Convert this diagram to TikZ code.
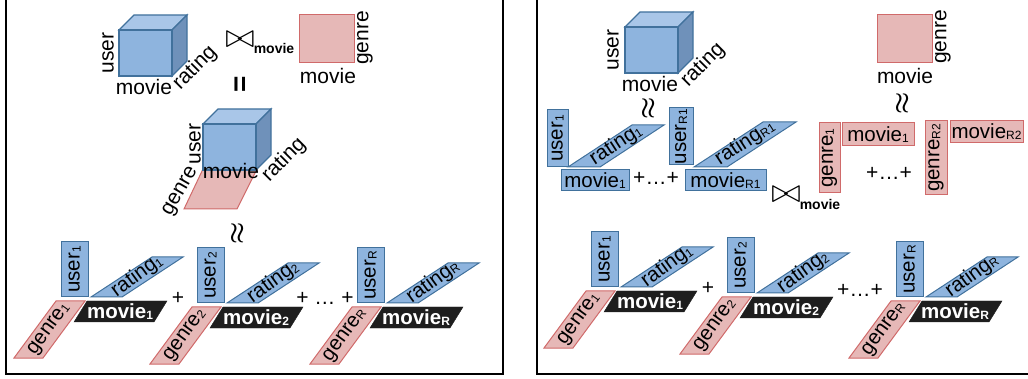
\documentclass[tikz,border=0pt]{standalone}
\usepackage{fontspec}
\setmainfont{Liberation Sans}
\definecolor{cubefront}{HTML}{8EB4DE}
\definecolor{cubetop}{HTML}{A9C6E8}
\definecolor{cubeside}{HTML}{6F91BA}
\definecolor{blueedge}{HTML}{41719C}
\definecolor{redfill}{HTML}{E6B8B7}
\definecolor{rededge}{HTML}{D06A6A}
\definecolor{blackfill}{HTML}{1E1E1E}
\newcommand{\sub}[1]{\raisebox{-0.05em}{\fontsize{12}{13}\selectfont #1}}
% cube: front top-left corner, width 53, height 46, depth 15
\newcommand{\datacube}[2]{%
  \filldraw[fill=cubetop,draw=blueedge,line width=1.2pt] (#1,#2)--++(15,-15)--++(53,0)--++(-15,15)--cycle;
  \filldraw[fill=cubeside,draw=blueedge,line width=1.2pt] (#1+53,#2)--++(15,-15)--++(0,46)--++(-15,15)--cycle;
  \filldraw[fill=cubefront,draw=blueedge,line width=1.2pt] (#1,#2) rectangle ++(53,46);}

\begin{document}
\begin{tikzpicture}[x=1pt,y=-1pt,font=\fontsize{21}{24}\selectfont,
  bluebox/.style={fill=cubefront,draw=blueedge,line width=1pt},
  redbox/.style={fill=redfill,draw=rededge,line width=1pt},
  blackbox/.style={fill=blackfill,draw=blackfill},
  lbl/.style={inner sep=0pt},
  glbl/.style={inner sep=0pt,font=\fontsize{20.5}{24}\selectfont},
  wlbl/.style={inner sep=0pt,text=white,font=\fontsize{20.5}{24}\selectfont\bfseries},
  joinsym/.style={inner sep=0pt,xscale=1.45,yscale=1.35,font=\fontsize{24}{24}\selectfont},
  joinsub/.style={inner sep=0pt,font=\fontsize{14}{15}\selectfont\bfseries},
  relsym/.style={inner sep=0pt,rotate=90,font=\fontsize{28}{30}\selectfont\bfseries\boldmath}]
\useasboundingbox (0,0) rectangle (1028,379);
\clip (0,0) rectangle (1028,379);
\draw[line width=1.5pt] (6,-5) rectangle (503,374);
\draw[line width=1.5pt] (537,-5) rectangle (1035,374);

%% left panel, top
\datacube{119}{30}
\node[lbl,rotate=90] (userA) at (108,53) {user};
\node[lbl] (movieA) at (144,87) {movie};
\node[lbl,rotate=45] (ratingA) at (195,68) {rating};
\node[joinsym] (joinA) at (240,40) {$\bowtie$};
\node[joinsub] (joinsubA) at (274,48) {movie};
\filldraw[redbox] (299,15) rectangle (354,63);
\node[lbl,rotate=90] (genreA) at (365,38) {genre};
\node[lbl] (movieB) at (328,76) {movie};
\node[relsym] (eqA) at (242,84) {=};

%% left panel, joined cube
\filldraw[redbox] (203,169)--(257,169)--(237,209)--(184,209)--cycle;
\datacube{203}{124}
\node[lbl,rotate=90] (userB) at (195,144) {user};
\node[lbl] (movieC) at (231,171) {movie};
\node[lbl,rotate=60] (genreB) at (181,192) {genre};
\node[lbl,rotate=45] (ratingB) at (284,160) {rating};
\node[relsym] (apA) at (238,233) {$\approx$};

%% rank-one terms, both panels
\foreach \dx/\dy/\s [count=\i] in {0/0/1,136/6/2,296/6/R,530/-10/1,666/-4/2,835/0/R}{
  \begin{scope}[shift={(\dx,\dy)}]
  \filldraw[bluebox] (61,242) rectangle (88,297);
  \node[glbl,rotate=90] (user\i) at (74.5,269.5) {user\sub{\s}};
  \filldraw[bluebox] (91,297)--(152,257)--(183,257)--(122,297)--cycle;
  \node[glbl,rotate=36] (rating\i) at (137,276) {rating\sub{\s}};
  \filldraw[blackbox] (87,301)--(167,301)--(154,322)--(74,322)--cycle;
  \node[wlbl] (movie\i) at (120,311.5) {movie\sub{\s}};
  \filldraw[redbox] (56,301)--(85,301)--(43,358)--(14,358)--cycle;
  \node[glbl,rotate=54] (genre\i) at (49.5,329.5) {genre\sub{\s}};
  \end{scope}}
\node[lbl] (plusA) at (178,298) {+};
\node[lbl] (plusB) at (325,298) {+ \ldots\ +};
\node[lbl] (plusC) at (708,288) {+};
\node[lbl] (plusD) at (860,290) {+\ldots+};

%% right panel, top
\datacube{625}{27}
\node[lbl,rotate=90] (userC) at (613,50) {user};
\node[lbl] (movieD) at (650,84) {movie};
\node[lbl,rotate=45] (ratingC) at (703,65) {rating};
\node[relsym] (apB) at (649,108) {$\approx$};
\filldraw[redbox] (877,15) rectangle (932,63);
\node[lbl,rotate=90] (genreC) at (943,37) {genre};
\node[lbl] (movieE) at (905,76) {movie};
\node[relsym] (apC) at (903,103) {$\approx$};

%% right panel, factor blocks
\filldraw[bluebox] (547,110) rectangle (568,167);
\node[glbl,rotate=90] (userD) at (557.5,138.5) {user\sub{1}};
\filldraw[bluebox] (568,167)--(632,125)--(664,125)--(600,167)--cycle;
\node[glbl,rotate=33] (ratingD) at (616,145) {rating\sub{1}};
\filldraw[bluebox] (561,170) rectangle (629,191);
\node[glbl] (movieF) at (595,180.5) {movie\sub{1}};
\node[lbl] (plusE) at (656,178) {+\ldots+};
\filldraw[bluebox] (669,108) rectangle (693,165);
\node[glbl,rotate=90] (userE) at (681,136.5) {user\sub{R1}};
\filldraw[bluebox] (694,167)--(763,122)--(796,122)--(727,167)--cycle;
\node[glbl,rotate=33] (ratingE) at (745,143) {rating\sub{R1}};
\filldraw[bluebox] (685,170) rectangle (766,191);
\node[glbl] (movieG) at (725.5,180.5) {movie\sub{R1}};
\node[joinsym] (joinB) at (786,195) {$\bowtie$};
\node[joinsub] (joinsubB) at (820,204) {movie};

\filldraw[redbox] (819,123) rectangle (840,193);
\node[glbl,rotate=90] (genreD) at (829.5,158) {genre\sub{1}};
\filldraw[redbox] (842,123) rectangle (914,146);
\node[glbl] (movieH) at (878,134.5) {movie\sub{1}};
\node[lbl] (plusF) at (889,173) {+\ldots+};
\filldraw[redbox] (925,121) rectangle (947,195);
\node[glbl,rotate=90] (genreE) at (936,158) {genre\sub{R2}};
\filldraw[redbox] (950,121) rectangle (1023,143);
\node[glbl] (movieI) at (986.5,132) {movie\sub{R2}};
\end{tikzpicture}
\end{document}
